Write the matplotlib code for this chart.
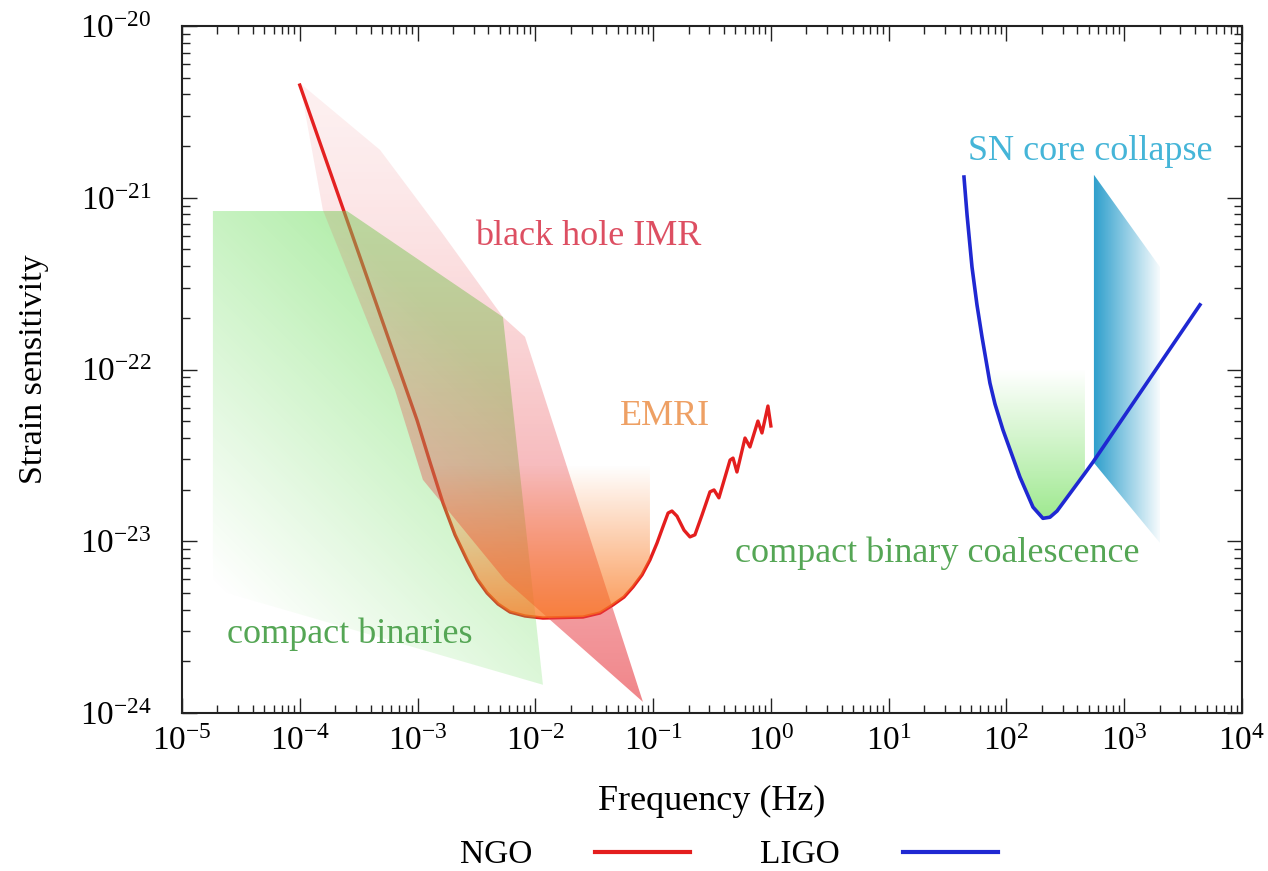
import numpy as np
import matplotlib
matplotlib.use('Agg')
import matplotlib.pyplot as plt
import matplotlib.colors as mcolors
from matplotlib.patches import Polygon
from matplotlib.lines import Line2D
from matplotlib.ticker import LogLocator, NullFormatter

plt.rcParams['font.family'] = 'serif'
plt.rcParams['font.serif'] = ['Liberation Serif', 'DejaVu Serif']
plt.rcParams['mathtext.fontset'] = 'stix'

# NGO sensitivity (Hz, strain)
ngo_f = [1.00e-4, 9.89e-4, 1.275e-3, 1.644e-3, 2.08e-3, 2.63e-3, 3.20e-3, 3.89e-3,
         4.82e-3, 6.10e-3, 8.17e-3, 1.16e-2, 2.54e-2, 3.54e-2, 4.56e-2, 5.66e-2,
         6.75e-2, 8.05e-2, 9.40e-2, 0.108, 0.121, 0.134, 0.1445, 0.1595, 0.183,
         0.2055, 0.2265, 0.260, 0.304, 0.329, 0.362, 0.450, 0.477, 0.515, 0.603,
         0.664, 0.776, 0.840, 0.944, 1.0]
ngo_h = [4.53e-21, 5.08e-23, 2.89e-23, 1.67e-23, 1.09e-23, 7.78e-24, 6.03e-24, 5.00e-24,
         4.31e-24, 3.87e-24, 3.67e-24, 3.57e-24, 3.62e-24, 3.82e-24, 4.26e-24, 4.73e-24,
         5.42e-24, 6.37e-24, 7.78e-24, 9.77e-24, 1.21e-23, 1.46e-23, 1.50e-23, 1.40e-23, 1.16e-23,
         1.06e-23, 1.09e-23, 1.42e-23, 1.94e-23, 1.99e-23, 1.79e-23, 2.97e-23, 3.05e-23, 2.53e-23, 3.99e-23,
         3.54e-23, 5.01e-23, 4.27e-23, 6.13e-23, 4.69e-23]

# LIGO sensitivity
ligo_f = [43.6, 46.3, 51.0, 56.2, 62.0, 72.4, 79.9, 93.4, 130, 168, 204, 234, 269, 464, 543, 4395]
ligo_h = [1.32e-21, 7.94e-22, 3.95e-22, 2.38e-22, 1.55e-22, 8.34e-23, 6.30e-23, 4.45e-23, 2.37e-23,
          1.58e-23, 1.36e-23, 1.38e-23, 1.50e-23, 2.49e-23, 2.89e-23, 2.38e-22]

# source regions
cb_f = [1.83e-5, 2.52e-4, 5.31e-3, 1.16e-2, 1.83e-5]
cb_h = [8.37e-22, 8.37e-22, 2.02e-22, 1.46e-24, 5.27e-24]
bh_f = [1.00e-4, 4.80e-4, 1.55e-3, 5.31e-3, 8.17e-3, 8.20e-2, 5.53e-3, 1.11e-3, 6.43e-4, 1.57e-4]
bh_h = [4.66e-21, 1.90e-21, 6.49e-22, 2.02e-22, 1.55e-22, 1.16e-24, 5.95e-24, 2.28e-23, 7.60e-23, 8.49e-22]
sn_f = [553, 2012, 2012, 553]
sn_h = [1.36e-21, 3.95e-22, 9.77e-24, 2.86e-23]
emri_band = (9.8e-4, 9.5e-2)
cbc_band = (62.0, 464)

labels = ['black hole IMR', 'EMRI', 'compact binaries', 'compact binary coalescence', 'SN core collapse']
label_f = [3.07e-3, 5.24e-2, 2.41e-5, 0.496, 47.2]
label_h = [5.31e-22, 4.75e-23, 2.56e-24, 7.57e-24, 1.66e-21]
label_c = ['#dd4f62', '#eea064', '#55a655', '#55a655', '#45b5d8']

x_ticks = [1e-5, 1e-4, 1e-3, 1e-2, 1e-1, 1e0, 1e1, 1e2, 1e3, 1e4]
y_ticks = [1e-24, 1e-23, 1e-22, 1e-21, 1e-20]

red = '#e41e1e'
blue = '#1f28d2'
fs = 24
fs_lab = 26

fig = plt.figure(figsize=(12.68, 8.71), dpi=100)
rect = [182 / 1268, 1 - 713 / 871, 1060 / 1268, 687 / 871]
ax = fig.add_axes(rect, zorder=0)
axf = fig.add_axes(rect, zorder=1)
axt = fig.add_axes(rect, zorder=2)

for a in (ax, axt):
    a.set_xscale('log')
    a.set_yscale('log')
    a.set_xlim(1e-5, 1e4)
    a.set_ylim(1e-24, 1e-20)

# NGO line sits under the shaded regions
ax.plot(ngo_f, ngo_h, color=red, lw=2.4, solid_joinstyle='round')

# gradient fills on a linear overlay in log10 units
X, Y = np.meshgrid(np.linspace(-5, 4, 900), np.linspace(-24, -20, 400))


def shade(fs_, hs_, color, alpha):
    rgba = np.zeros(X.shape + (4,))
    rgba[..., :3] = mcolors.to_rgb(color)
    rgba[..., 3] = np.clip(alpha, 0, 1)
    im = axf.imshow(rgba, extent=(-5, 4, -24, -20), origin='lower', aspect='auto',
                    interpolation='bilinear')
    poly = Polygon(np.column_stack([np.log10(fs_), np.log10(hs_)]), closed=True,
                   facecolor='none', edgecolor='none', transform=axf.transData)
    axf.add_patch(poly)
    im.set_clip_path(poly)


shade(cb_f, cb_h, (0.42, 0.87, 0.36),
      np.minimum(0.38 + 0.12 * (X + 4.737) - 0.175 * (-21.077 - Y), 0.5))
t = np.clip((-20.33 - Y) / 3.6, 0, 1)
shade(bh_f, bh_h, (0.91, 0.24, 0.27), 0.08 + 0.55 * t ** 1.5)

nf, nh = np.array(ngo_f), np.array(ngo_h)
m = (nf >= emri_band[0]) & (nf <= emri_band[1])
ef = list(nf[m]) + [nf[m][-1]]
eh = list(nh[m]) + [nh[m][0]]
shade(ef, eh, (0.98, 0.47, 0.12), np.minimum(0.75 * (-22.556 - Y) / 0.89, 0.75))

lf_, lh_ = np.array(ligo_f), np.array(ligo_h)
m = (lf_ >= cbc_band[0]) & (lf_ <= cbc_band[1])
cf = list(lf_[m]) + [lf_[m][-1]]
ch = list(lh_[m]) + [lh_[m][0]]
shade(cf, ch, (0.42, 0.87, 0.33), np.minimum(0.65 * (-22.0 - Y) / 0.865, 0.65))

shade(sn_f, sn_h, (0.08, 0.58, 0.78), 0.9 * (3.33 - X) / 0.587)

axf.set_xlim(-5, 4)
axf.set_ylim(-24, -20)
axf.axis('off')

axt.plot(ligo_f, ligo_h, color=blue, lw=2.6, solid_joinstyle='round')
for s_, x, y, c in zip(labels, label_f, label_h, label_c):
    axt.text(x, y, s_, color=c, fontsize=fs_lab, ha='left', va='baseline')
axt.axis('off')

# ticks / frame on the base axes
ax.set_xticks(x_ticks)
ax.set_yticks(y_ticks)
for axis in (ax.xaxis, ax.yaxis):
    axis.set_minor_locator(LogLocator(base=10, subs=np.arange(2, 10), numticks=20))
    axis.set_minor_formatter(NullFormatter())
ax.set_xlim(1e-5, 1e4)
ax.set_ylim(1e-24, 1e-20)
ax.tick_params(which='both', direction='in', top=True, right=True, width=1.0, color='#222222')
ax.tick_params(which='major', length=11, labelsize=fs)
ax.tick_params(which='minor', length=6)
ax.tick_params(axis='x', which='major', pad=10)
ax.tick_params(axis='y', which='major', pad=22)
for sp in ax.spines.values():
    sp.set_linewidth(1.5)
    sp.set_color('#222222')

ax.set_xlabel('Frequency (Hz)', fontsize=fs_lab)
ax.set_ylabel('Strain sensitivity', fontsize=24.5)
ax.xaxis.set_label_coords(0.5, -0.105)
ax.yaxis.set_label_coords(-0.125, 0.5)

handles = [Line2D([], [], color=red, lw=3), Line2D([], [], color=blue, lw=3)]
fig.legend(handles, ['NGO', 'LIGO'], loc='center', bbox_to_anchor=(0.575, 0.0184),
           ncol=2, frameon=False, markerfirst=False, handlelength=2.85,
           handletextpad=1.9, columnspacing=2.1, fontsize=fs, borderpad=0)

fig.savefig('out.png', dpi=100)
